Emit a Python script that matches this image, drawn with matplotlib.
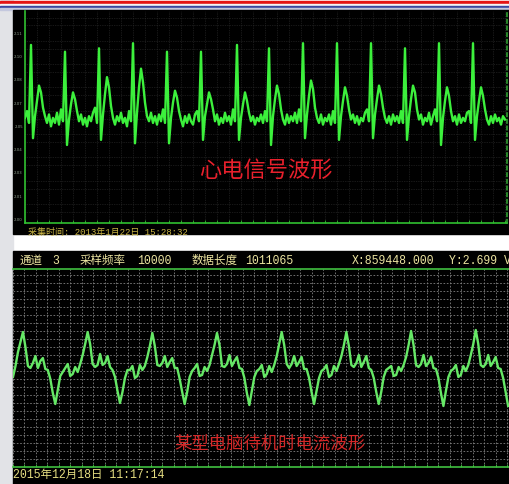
import matplotlib
matplotlib.use('Agg')
import matplotlib.pyplot as plt
import numpy as np
from matplotlib.patches import Rectangle

W, H = 510, 484

# ECG trace (top panel), sampled evenly
ecg_tick_labels = ['2.00', '2.01', '2.03', '2.04', '2.05', '2.07', '2.08', '2.10', '2.11']
ecg_signal = [
    2.060, 2.064, 2.057,
    2.103, 2.048, 2.061, 2.070, 2.079, 2.075, 2.066, 2.061, 2.057, 2.062, 2.055, 2.060, 2.057, 2.063, 2.056, 2.065, 2.058,
    2.099, 2.044, 2.059, 2.068, 2.075, 2.071, 2.064, 2.058, 2.062, 2.056, 2.060, 2.055, 2.061, 2.058, 2.063, 2.066, 2.057,
    2.101, 2.047, 2.062, 2.074, 2.084, 2.078, 2.067, 2.060, 2.056, 2.061, 2.058, 2.063, 2.057, 2.060, 2.055, 2.064, 2.058,
    2.104, 2.045, 2.063, 2.078, 2.089, 2.081, 2.069, 2.061, 2.058, 2.063, 2.057, 2.061, 2.056, 2.062, 2.058, 2.065, 2.057,
    2.099, 2.045, 2.060, 2.069, 2.076, 2.072, 2.064, 2.059, 2.055, 2.061, 2.057, 2.062, 2.058, 2.056, 2.062, 2.064, 2.058,
    2.099, 2.047, 2.061, 2.068, 2.075, 2.071, 2.065, 2.058, 2.062, 2.056, 2.060, 2.057, 2.063, 2.058, 2.061, 2.056, 2.065, 2.058,
    2.103, 2.047, 2.060, 2.068, 2.075, 2.070, 2.063, 2.058, 2.061, 2.056, 2.060, 2.058, 2.062, 2.057, 2.064, 2.058,
    2.101, 2.044, 2.061, 2.071, 2.079, 2.074, 2.065, 2.059, 2.056, 2.062, 2.057, 2.061, 2.058, 2.063, 2.057, 2.065, 2.058,
    2.104, 2.048, 2.062, 2.073, 2.082, 2.077, 2.066, 2.060, 2.057, 2.062, 2.056, 2.060, 2.058, 2.062, 2.056, 2.064, 2.057,
    2.104, 2.047, 2.061, 2.070, 2.078, 2.073, 2.065, 2.059, 2.062, 2.057, 2.061, 2.056, 2.060, 2.058, 2.063, 2.065, 2.058,
    2.104, 2.048, 2.062, 2.071, 2.079, 2.074, 2.066, 2.060, 2.057, 2.061, 2.056, 2.062, 2.058, 2.061, 2.057, 2.064, 2.057,
    2.101, 2.047, 2.061, 2.071, 2.079, 2.075, 2.065, 2.059, 2.062, 2.056, 2.060, 2.058, 2.063, 2.056, 2.061, 2.065, 2.058,
    2.104, 2.044, 2.060, 2.070, 2.078, 2.073, 2.064, 2.058, 2.061, 2.056, 2.062, 2.057, 2.060, 2.058, 2.063, 2.064, 2.057,
    2.104, 2.047, 2.061, 2.070, 2.078, 2.073, 2.065, 2.059, 2.056, 2.061, 2.057, 2.062, 2.058, 2.060, 2.056, 2.061, 2.059,
]

# standby current trace (bottom panel), volts
current_signal = [
    1.80, 2.02, 2.30, 2.50,
    2.70, 2.40, 2.02, 1.98, 2.08, 2.22, 1.98, 2.12, 2.18, 1.96, 1.94, 1.76, 1.48, 1.26, 1.54, 1.82, 1.90, 1.98, 2.06, 1.82, 1.86, 2.00, 1.90, 2.06, 2.24, 2.46,
    2.70, 2.46, 2.06, 2.00, 2.04, 2.26, 2.04, 2.08, 2.22, 2.00, 1.94, 1.80, 1.52, 1.28, 1.50, 1.78, 1.94, 1.94, 2.02, 1.78, 1.82, 2.04, 1.94, 2.02, 2.20, 2.42,
    2.68, 2.42, 2.04, 2.02, 2.08, 2.22, 2.00, 2.10, 2.18, 1.98, 1.98, 1.76, 1.50, 1.26, 1.50, 1.80, 1.92, 1.98, 2.06, 1.82, 1.84, 2.00, 1.92, 2.04, 2.24, 2.44,
    2.68, 2.44, 2.02, 2.00, 2.06, 2.24, 2.02, 2.12, 2.20, 1.98, 1.96, 1.78, 1.48, 1.24, 1.52, 1.80, 1.92, 1.96, 2.04, 1.80, 1.86, 2.02, 1.90, 2.04, 2.22, 2.46,
    2.70, 2.44, 2.06, 1.98, 2.06, 2.22, 2.02, 2.10, 2.20, 1.96, 1.96, 1.78, 1.50, 1.26, 1.52, 1.78, 1.92, 1.96, 2.04, 1.80, 1.84, 2.02, 1.92, 2.06, 2.22, 2.44,
    2.70, 2.42, 2.04, 2.00, 2.08, 2.24, 2.00, 2.10, 2.22, 1.98, 1.94, 1.78, 1.50, 1.26, 1.50, 1.80, 1.94, 1.98, 2.02, 1.82, 1.84, 2.00, 1.92, 2.04, 2.20, 2.44,
    2.72, 2.44, 2.04, 2.00, 2.06, 2.24, 2.02, 2.08, 2.20, 1.98, 1.96, 1.78, 1.48, 1.22, 1.52, 1.80, 1.92, 1.96, 2.04, 1.80, 1.84, 2.02, 1.92, 2.04, 2.24, 2.46,
    2.74, 2.46, 2.04, 2.00, 2.06, 2.24, 2.02, 2.10, 2.20, 1.98, 1.96, 1.78, 1.50, 1.22,
]

header_items = [('通道', 20), ('3', 52), ('采样频率', 80), ('10000', 137), ('数据长度', 192),
                ('1011065', 245), ('X:859448.000', 352), ('Y:2.699 V', 449)]

CJK = ['Liberation Mono', 'Noto Sans CJK SC']


def box(x0, y0, x1, y1):
    return [x0 / W, 1 - y1 / H, (x1 - x0) / W, (y1 - y0) / H]


def ftext(x, y, s, **kw):
    fig.text(x / W, 1 - y / H, s, **kw)


fig = plt.figure(figsize=(W / 100, H / 100), dpi=100, facecolor='white')

# page decoration: side strip, title stripes, black panels
fig.patches.append(Rectangle((0, 0), 13 / W, 1, transform=fig.transFigure, color='#e2e3e7', zorder=-3))
for y0, y1, c in [(1, 4.5, '#e41414'), (4.5, 5.5, '#f6f6f6'), (5.5, 8, '#3a48a0'), (8, 9.5, '#c4c8de')]:
    fig.patches.append(Rectangle((0, 1 - y1 / H), 1, (y1 - y0) / H, transform=fig.transFigure, color=c, zorder=-3))
for b in [(13, 10, 510, 234), (13, 251, 510, 484)]:
    x, y, w, h = box(*b)
    fig.patches.append(Rectangle((x, y), w, h, transform=fig.transFigure, color='black', zorder=-2))

# top panel: ECG
ax1 = fig.add_axes(box(25, 11, 507, 223))
ax1.set_zorder(2)
ax1.set_facecolor('black')
n1 = len(ecg_signal)
ax1.plot(np.arange(n1), ecg_signal, color='#3cf03c', lw=1.7, zorder=3)
ax1.set_xlim(0, 241)
ax1.set_ylim(1.998, 2.123)
yt = np.linspace(2.00, 2.11, 9)
ax1.set_yticks(yt, ecg_tick_labels)
ax1.set_yticks(np.arange(2.00, 2.123, 0.11 / 24), minor=True)
ax1.set_xticks(np.arange(0, 242, 6), minor=True)
ax1.set_xticks([])
ax1.tick_params(axis='y', labelsize=2.8, labelcolor='#8c9c8c', length=0, pad=1.5)
ax1.tick_params(axis='x', which='minor', direction='in', length=2, color='#30c030', width=0.6)
ax1.tick_params(axis='y', which='minor', length=0)
ax1.grid(which='minor', color='#303030', linestyle=(0, (1, 1.5)), lw=0.5)
ax1.spines['top'].set_visible(False)
ax1.spines['left'].set_color('#30c030')
ax1.spines['bottom'].set_color('#30c030')
ax1.spines['right'].set_color('#30a030')
ax1.spines['right'].set_linestyle((0, (2, 2)))
for s in ['left', 'bottom', 'right']:
    ax1.spines[s].set_linewidth(1.2)
ax1.text(0.5, 0.25, '心电信号波形', transform=ax1.transAxes, ha='center', va='center',
         fontsize=16, color='#e8202c', family=['Noto Sans CJK SC'])
ftext(28, 232, '采集时间: 2013年1月22日 15:28:32', fontsize=6.5, color='#c8b444',
      family=CJK, va='center', ha='left')

# bottom panel: standby current
ax2 = fig.add_axes(box(13, 269, 510, 467))
ax2.set_zorder(2)
ax2.set_facecolor('black')
n2 = len(current_signal)
ax2.plot(np.arange(n2), current_signal, color='#66e866', lw=1.7, zorder=3)
ax2.set_xlim(0, 497 / 2.488)
ax2.set_ylim(0, 3.96)
ax2.set_xticks(np.arange(0, 200, 4.62), minor=True)
ax2.set_yticks(np.arange(0.0, 3.96, 0.16), minor=True)
ax2.set_xticks([])
ax2.set_yticks([])
ax2.tick_params(axis='x', which='minor', direction='in', length=2, color='#40c040', width=0.6)
ax2.tick_params(axis='y', which='minor', length=0)
ax2.grid(which='minor', color='#808080', linestyle=(0, (2, 2)), lw=0.6)
for s in ['left', 'right']:
    ax2.spines[s].set_visible(False)
for s in ['top', 'bottom']:
    ax2.spines[s].set_color('#40c040')
    ax2.spines[s].set_linewidth(1.2)
ax2.text(0.516, 0.115, '某型电脑待机时电流波形', transform=ax2.transAxes, ha='center', va='center',
         fontsize=12.5, color='#d42828', family=['Noto Sans CJK SC'])

for s, x in header_items:
    ftext(x, 261, s, fontsize=8.3, color='#ece4a0', family=CJK, va='center', ha='left')
ftext(13, 475, '2015年12月18日 11:17:14', fontsize=8.3, color='#e4dc80', family=CJK,
      va='center', ha='left')

fig.savefig('out.png', dpi=100, facecolor=fig.get_facecolor())
